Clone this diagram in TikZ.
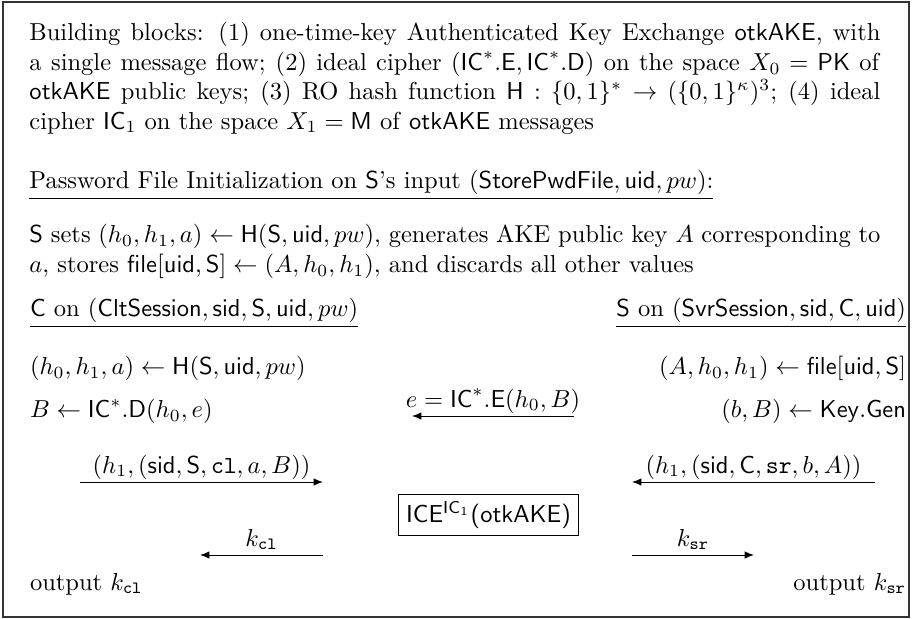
\documentclass[tikz,border=0pt]{standalone}
\usepackage{amsmath,amssymb}
\usetikzlibrary{arrows.meta}
\begin{document}
\begin{tikzpicture}[x=0.408pt,y=-0.408pt,
  txt/.style={inner sep=0pt, outer sep=0pt},
  para/.style={txt, text width=347.2pt, align=justify, anchor=base west},
  lft/.style={txt, anchor=base west},
  rgt/.style={txt, anchor=base east},
  msg/.style={-{Latex[length=3.8pt,width=3pt]}, line width=0.4pt},
  lbl/.style={txt, anchor=base, yshift=3.6pt},
  framebox/.style={line width=0.5pt, draw=black!80}]
\useasboundingbox (0,0) rectangle (913,619);
\draw[framebox] (3,2) rectangle (909,617);

\node[para] (blocks) at (29.5,41) {Building blocks: (1) one-time-key Authenticated Key Exchange \textsf{otkAKE}, with\linebreak a single message flow; (2) ideal cipher $(\mathsf{IC}^*.\mathsf{E},\mathsf{IC}^*.\mathsf{D})$ on the space $X_0=\mathsf{PK}$ of\linebreak \textsf{otkAKE} public keys; (3) RO hash function $\mathsf{H}:\{0,1\}^*\rightarrow(\{0,1\}^\kappa)^3$; (4) ideal\linebreak cipher $\mathsf{IC}_1$ on the space $X_1=\mathsf{M}$ of \textsf{otkAKE} messages};

\node[lft] (pfi) at (29.5,189) {\underline{Password File Initialization on \textsf{S}'s input $(\mathsf{StorePwdFile},\mathsf{uid},pw)$:}};

\node[para] (init) at (29.5,243) {\textsf{S} sets $(h_0,h_1,a)\leftarrow\mathsf{H}(\mathsf{S},\mathsf{uid},pw)$, generates AKE public key $A$ corresponding to\linebreak $a$, stores $\mathsf{file}[\mathsf{uid},\mathsf{S}]\leftarrow(A,h_0,h_1)$, and discards all other values};

\node[lft] (chdr) at (30,317) {\underline{\textsf{C} on $(\mathsf{CltSession},\mathsf{sid},\mathsf{S},\mathsf{uid},pw)$}};
\node[rgt] (shdr) at (906,317) {\underline{\textsf{S} on $(\mathsf{SvrSession},\mathsf{sid},\mathsf{C},\mathsf{uid})$}};

\node[lft] (c1) at (30,375) {$(h_0,h_1,a)\leftarrow\mathsf{H}(\mathsf{S},\mathsf{uid},pw)$};
\node[lft] (c2) at (30,418) {$B\leftarrow\mathsf{IC}^*.\mathsf{D}(h_0,e)$};
\node[rgt] (s1) at (906,375) {$(A,h_0,h_1)\leftarrow\mathsf{file}[\mathsf{uid},\mathsf{S}]$};
\node[rgt] (s2) at (906,418) {$(b,B)\leftarrow\mathsf{Key.Gen}$};

\coordinate (eS) at (574,416);
\coordinate (eE) at (412,416);
\draw[msg] (eS) -- node[lbl] (elbl) {$e=\mathsf{IC}^*.\mathsf{E}(h_0,B)$} (eE);

\coordinate (m1S) at (80,482);
\coordinate (m1E) at (323,482);
\draw[msg] (m1S) -- node[lbl] (m1lbl) {$(h_1,(\mathsf{sid},\mathsf{S},\mathtt{cl},a,B))$} (m1E);
\coordinate (m2S) at (875,482);
\coordinate (m2E) at (632,482);
\draw[msg] (m2S) -- node[lbl] (m2lbl) {$(h_1,(\mathsf{sid},\mathsf{C},\mathtt{sr},b,A))$} (m2E);

\node[draw, line width=0.4pt, inner sep=3pt] (ice) at (488.5,515) {\textsf{ICE$^{\mathsf{IC}_1}$(otkAKE)}};

\coordinate (kcS) at (323,555);
\coordinate (kcE) at (200,555);
\draw[msg] (kcS) -- node[lbl] (kclbl) {$k_{\mathtt{cl}}$} (kcE);
\coordinate (ksS) at (632,555);
\coordinate (ksE) at (754,555);
\draw[msg] (ksS) -- node[lbl] (kslbl) {$k_{\mathtt{sr}}$} (ksE);

\node[lft] (oc) at (30,590) {output $k_{\mathtt{cl}}$};
\node[rgt] (os) at (906,590) {output $k_{\mathtt{sr}}$};
\end{tikzpicture}
\end{document}
